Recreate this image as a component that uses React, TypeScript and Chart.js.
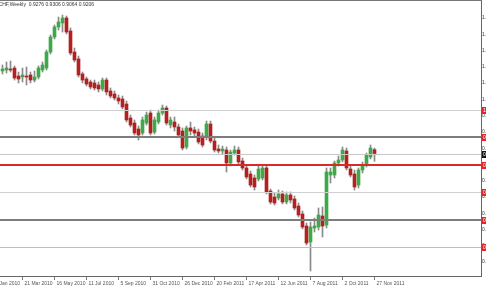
import React, { useEffect, useRef } from 'react';
import { Chart, registerables } from 'chart.js';

Chart.register(...registerables);

// ---- data (USDCHF weekly, one entry per week, first week = 14 Feb 2010) ----
const opens = [
  1.0712, 1.0730, 1.0748, 1.0766, 1.0620, 1.0602, 1.0620, 1.0639, 1.0547, 1.0602,
  1.0730, 1.0766, 1.1058, 1.1332, 1.1515, 1.1588, 1.1679, 1.1442, 1.1058, 1.0931,
  1.0657, 1.0566, 1.0511, 1.0493, 1.0456, 1.0383, 1.0547, 1.0347, 1.0292, 1.0219,
  1.0201, 1.0109, 0.9854, 0.9763, 0.9653, 0.9580, 0.9763, 0.9945, 0.9598, 0.9781,
  0.9945, 1.0036, 0.9726, 0.9781, 0.9690, 0.9617, 0.9325, 0.9672, 0.9635, 0.9598,
  0.9525, 0.9507, 0.9745, 0.9434, 0.9288, 0.9252, 0.9270, 0.9033, 0.9215, 0.9270,
  0.9069, 0.8942, 0.8832, 0.8759, 0.8741, 0.8759, 0.8942, 0.8522, 0.8412, 0.8394,
  0.8467, 0.8321, 0.8449, 0.8376, 0.8248, 0.8102, 0.7883, 0.7591, 0.7847, 0.7865,
  0.8066, 0.7901, 0.8814, 0.8814, 0.9033, 0.9088, 0.9252, 0.8923, 0.8832, 0.8631,
  0.8905, 0.8996, 0.9142, 0.9276,
];
const highs = [
  1.0821, 1.0876, 1.0894, 1.0803, 1.0693, 1.0766, 1.0785, 1.0693, 1.0712, 1.0803,
  1.0876, 1.1095, 1.1369, 1.1551, 1.1697, 1.1733, 1.1715, 1.1497, 1.1131, 1.0985,
  1.0693, 1.0602, 1.0547, 1.0547, 1.0511, 1.0584, 1.0584, 1.0402, 1.0347, 1.0274,
  1.0255, 1.0164, 0.9909, 0.9818, 0.9708, 0.9872, 0.9963, 1.0000, 0.9872, 1.0000,
  1.0091, 1.0073, 0.9872, 0.9872, 0.9745, 0.9672, 0.9708, 0.9781, 0.9690, 0.9653,
  0.9580, 0.9799, 0.9799, 0.9489, 0.9361, 0.9343, 0.9325, 0.9270, 0.9343, 0.9325,
  0.9124, 0.8996, 0.8887, 0.8814, 0.8978, 0.8996, 0.8978, 0.8558, 0.8485, 0.8540,
  0.8522, 0.8504, 0.8504, 0.8431, 0.8303, 0.8157, 0.7938, 0.7956, 0.8029, 0.8212,
  0.8230, 0.8942, 0.8942, 0.9069, 0.9161, 0.9325, 0.9306, 0.8996, 0.8905, 0.8942,
  0.9051, 0.9215, 0.9361, 0.9306,
];
const lows = [
  1.0657, 1.0675, 1.0693, 1.0547, 1.0493, 1.0511, 1.0456, 1.0493, 1.0511, 1.0566,
  1.0693, 1.0730, 1.1022, 1.1296, 1.1460, 1.1423, 1.1387, 1.1004, 1.0876, 1.0602,
  1.0493, 1.0438, 1.0383, 1.0365, 1.0329, 1.0347, 1.0274, 1.0219, 1.0182, 1.0109,
  1.0018, 0.9781, 0.9690, 0.9544, 0.9453, 0.9544, 0.9726, 0.9544, 0.9562, 0.9745,
  0.9909, 0.9726, 0.9672, 0.9617, 0.9507, 0.9270, 0.9288, 0.9544, 0.9525, 0.9380,
  0.9325, 0.9453, 0.9398, 0.9233, 0.9215, 0.9197, 0.8869, 0.8978, 0.9179, 0.9015,
  0.8905, 0.8741, 0.8595, 0.8540, 0.8704, 0.8723, 0.8467, 0.8285, 0.8266, 0.8358,
  0.8285, 0.8285, 0.8303, 0.8175, 0.8048, 0.7829, 0.7536, 0.7062, 0.7774, 0.7810,
  0.7682, 0.7847, 0.8668, 0.8759, 0.8978, 0.9051, 0.8905, 0.8777, 0.8540, 0.8577,
  0.8850, 0.8960, 0.9106, 0.9064,
];
const closes = [
  1.0748, 1.0766, 1.0730, 1.0584, 1.0566, 1.0639, 1.0602, 1.0547, 1.0602, 1.0766,
  1.0821, 1.1058, 1.1332, 1.1515, 1.1606, 1.1679, 1.1423, 1.1040, 1.0912, 1.0639,
  1.0547, 1.0474, 1.0420, 1.0402, 1.0383, 1.0547, 1.0329, 1.0255, 1.0219, 1.0164,
  1.0055, 0.9818, 0.9726, 0.9580, 0.9544, 0.9818, 0.9909, 0.9580, 0.9818, 0.9945,
  1.0036, 0.9763, 0.9818, 0.9690, 0.9544, 0.9306, 0.9672, 0.9617, 0.9580, 0.9416,
  0.9361, 0.9745, 0.9434, 0.9270, 0.9252, 0.9288, 0.9033, 0.9233, 0.9270, 0.9051,
  0.8942, 0.8777, 0.8631, 0.8595, 0.8923, 0.8942, 0.8504, 0.8321, 0.8303, 0.8467,
  0.8321, 0.8449, 0.8358, 0.8212, 0.8084, 0.7865, 0.7573, 0.7865, 0.7883, 0.8084,
  0.7883, 0.8869, 0.8869, 0.9033, 0.9088, 0.9270, 0.8942, 0.8814, 0.8595, 0.8905,
  0.8996, 0.9179, 0.9306, 0.9206,
];

// date axis (week index -> label)
const tickWeeks = [5, 13, 21, 29, 37, 45, 53, 61, 69, 77, 85, 93];
const tickLabels = [
  '21 Mar 2010', '16 May 2010', '11 Jul 2010', '5 Sep 2010', '31 Oct 2010', '26 Dec 2010',
  '20 Feb 2011', '17 Apr 2011', '12 Jun 2011', '7 Aug 2011', '2 Oct 2011', '27 Nov 2011',
];
const clippedTickWeek = -3;
const clippedTickLabel = '24 Jan 2010';

// price axis
const yTickValues = [
  1.168, 1.1383, 1.1086, 1.0789, 1.0492, 1.0195, 0.9898, 0.9601, 0.9304, 0.9007,
  0.871, 0.8413, 0.8116, 0.7819, 0.7522, 0.7225,
];
const levelPrices = [1.0, 0.95, 0.9, 0.85, 0.8, 0.75];
const levelColors = ['#cfcfcf', '#7d7d7d', '#d92a2a', '#cfcfcf', '#7d7d7d', '#f3a7a7'];
const levelWidths = [1, 2, 2, 1, 2, 1];
const bidPrice = 0.9206;

const symbolTitle = 'USDCHF,Weekly';
const ohlcTitle = '0.9276 0.9306 0.9064 0.9206';

// ---- layout constants ----
const CANVAS_W = 530;
const CANVAS_H = 290;
const PLOT_RIGHT = 481;
const X_MIN = -0.625;
const X_MAX = 119.625;
const Y_MAX = 1.198905;
const Y_MIN = 0.69708;

const GREEN = '#3daa47';
const RED = '#b3201f';
const WICK = '#8a8a8a';
const FONT = '"Liberation Sans", Arial, sans-serif';

export default function App() {
  const ref = useRef<HTMLCanvasElement>(null);

  useEffect(() => {
    const canvas = ref.current;
    if (!canvas) return;
    Chart.defaults.font.family = FONT;

    const idx = opens.map((_, i) => i);
    const bodyColors = idx.map((i) => (closes[i] >= opens[i] ? GREEN : RED));

    const overlay = {
      id: 'mtOverlay',
      afterDatasetsDraw(chart: any) {
        const { ctx, chartArea: a, scales } = chart;
        const y = scales.y;
        const hline = (p: number, color: string, w: number) => {
          const py = y.getPixelForValue(p);
          const yy = w % 2 === 1 ? Math.round(py) + 0.5 : Math.round(py);
          ctx.beginPath();
          ctx.strokeStyle = color;
          ctx.lineWidth = w;
          ctx.moveTo(a.left, yy);
          ctx.lineTo(a.right, yy);
          ctx.stroke();
        };
        ctx.save();
        hline(bidPrice, '#c8c8c8', 1);
        levelPrices.forEach((p, i) => hline(p, levelColors[i], levelWidths[i]));
        ctx.restore();
      },
      afterDraw(chart: any) {
        const { ctx, chartArea: a, scales } = chart;
        const y = scales.y;
        const x = scales.x;
        ctx.save();
        // top border
        ctx.fillStyle = '#777';
        ctx.fillRect(0, 0, a.right + 1, 1);
        // price boxes
        ctx.font = '5px ' + FONT;
        ctx.textBaseline = 'middle';
        const box = (p: number, fill: string) => {
          const py = Math.round(y.getPixelForValue(p));
          ctx.fillStyle = fill;
          ctx.fillRect(a.right + 1, py - 3, CANVAS_W - a.right, 7);
          ctx.fillStyle = '#fff';
          ctx.fillText(p.toFixed(4), a.right + 2, py + 0.5);
        };
        levelPrices.forEach((p) => box(p, '#e0262c'));
        box(bidPrice, '#151515');
        // title
        ctx.fillStyle = '#333';
        ctx.textBaseline = 'middle';
        ctx.fillText(symbolTitle + '  ' + ohlcTitle, -12, 5);
        // clipped first date label
        ctx.fillStyle = '#555';
        ctx.textBaseline = 'top';
        ctx.fillText(clippedTickLabel, x.getPixelForValue(clippedTickWeek) + 2, a.bottom + 5);
        ctx.restore();
      },
    };

    const chart = new Chart(canvas, {
      type: 'bar',
      data: {
        datasets: [
          {
            label: 'body',
            data: idx.map((i) => ({ x: i, y: [opens[i], closes[i]] })) as any,
            backgroundColor: bodyColors,
            barThickness: 3,
            grouped: false,
            minBarLength: 1,
            order: 1,
          } as any,
          {
            label: 'wick',
            data: idx.map((i) => ({ x: i, y: [lows[i], highs[i]] })) as any,
            backgroundColor: WICK,
            barThickness: 1,
            grouped: false,
            minBarLength: 1,
            order: 2,
          } as any,
        ],
      },
      options: {
        responsive: false,
        animation: false,
        events: [],
        layout: { padding: { top: 1, left: 0, right: 0, bottom: 0 } },
        plugins: {
          legend: { display: false },
          tooltip: { enabled: false },
          title: { display: false },
        },
        scales: {
          x: {
            type: 'linear',
            min: X_MIN,
            max: X_MAX,
            offset: false,
            grid: {
              display: true,
              drawOnChartArea: false,
              drawTicks: true,
              tickLength: 4,
              color: '#777',
              offset: false,
            },
            border: { display: true, color: '#666', width: 1 },
            ticks: {
              align: 'start',
              labelOffset: 2,
              padding: 1,
              maxRotation: 0,
              autoSkip: false,
              color: '#555',
              font: { size: 5 },
              callback: (v: any) => {
                const i = tickWeeks.indexOf(Number(v));
                return i >= 0 ? tickLabels[i] : '';
              },
            },
            afterBuildTicks: (s: any) => {
              s.ticks = tickWeeks.map((v) => ({ value: v }));
            },
            afterFit: (s: any) => {
              s.height = CANVAS_H - 276;
              s.paddingLeft = 0;
              s.paddingRight = 0;
            },
          },
          y: {
            type: 'linear',
            position: 'right',
            min: Y_MIN,
            max: Y_MAX,
            grid: { display: false, drawTicks: false },
            border: { display: true, color: '#666', width: 1 },
            ticks: {
              padding: 1,
              color: '#333',
              autoSkip: false,
              font: { size: 5 },
              callback: (v: any) => Number(v).toFixed(4),
            },
            afterBuildTicks: (s: any) => {
              s.ticks = yTickValues.map((v) => ({ value: v }));
            },
            afterFit: (s: any) => {
              s.width = CANVAS_W - PLOT_RIGHT;
              s.paddingTop = 0;
              s.paddingBottom = 0;
            },
          },
        },
      } as any,
      plugins: [overlay],
    });

    return () => chart.destroy();
  }, []);

  return (
    <div
      style={{
        position: 'fixed',
        left: 0,
        top: 0,
        width: 486,
        height: 290,
        overflow: 'hidden',
        background: '#fff',
      }}
    >
      <canvas
        ref={ref}
        width={CANVAS_W}
        height={CANVAS_H}
        style={{ display: 'block', width: CANVAS_W, height: CANVAS_H }}
      />
    </div>
  );
}
